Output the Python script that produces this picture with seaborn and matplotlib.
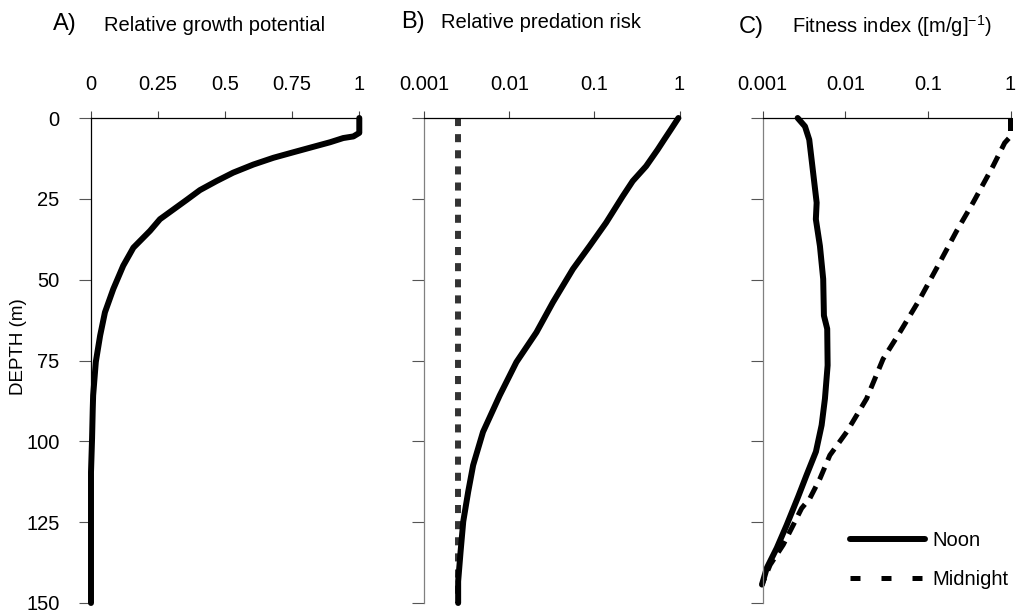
import numpy as np
import pandas as pd
import matplotlib
matplotlib.use("Agg")
import matplotlib.pyplot as plt
import seaborn as sns
from matplotlib.lines import Line2D
from matplotlib.ticker import NullLocator

# ---------------- data ----------------
depth_ticks = [0, 25, 50, 75, 100, 125, 150]

# Panel A: relative growth potential
depth_a = [0, 4.6, 5.7, 6.2, 7.5, 8.9, 10.6, 12.3, 14.4, 16.9, 19.5, 22.3, 25.3,
           28.3, 31.3, 34.9, 40.1, 45.7, 52.9, 60.1, 67.3, 75.4, 85.8, 90.0,
           99.0, 109.5, 150]
growth = [1.0, 1.0, 0.978, 0.940, 0.891, 0.829, 0.754, 0.680, 0.605, 0.530,
          0.468, 0.406, 0.357, 0.307, 0.257, 0.220, 0.158, 0.120, 0.083, 0.052,
          0.034, 0.018, 0.008, 0.0065, 0.004, 0.0, 0.0]

# Panel B: relative predation risk
depth_b = [0, 3.6, 6.7, 9.8, 14.9, 19.5, 24.2, 32.4, 39.6, 46.7, 57.0, 66.3,
           75.5, 85.8, 97.1, 107.4, 115.6, 124.8, 134.1, 143.3, 150]
risk_noon = [0.97, 0.79, 0.66, 0.553, 0.405, 0.282, 0.215, 0.137, 0.0877,
             0.0559, 0.0325, 0.0208, 0.0121, 0.0077, 0.0049, 0.00375, 0.00328,
             0.00287, 0.00267, 0.0025, 0.0025]
depth_b_mid = [0, 150]
risk_midnight = [0.00246, 0.00246]

# Panel C: fitness index
depth_c_noon = [0, 2.6, 6.7, 12.9, 19.0, 26.2, 31.3, 39.6, 49.8, 61.1, 65.2,
                76.5, 86.8, 95.0, 103.2, 110.4, 117.1, 125.9, 133.0, 139.2, 144.3]
fit_noon = [0.00265, 0.00325, 0.00366, 0.00391, 0.00417, 0.0045, 0.0044,
            0.00493, 0.0054, 0.00551, 0.00604, 0.00611, 0.00567, 0.00517,
            0.00441, 0.0034, 0.00269, 0.00195, 0.00148, 0.00112, 0.00098]
depth_c_mid = [0, 5.7, 7.7, 14.9, 26.2, 35.0, 44.7, 56.0, 66.3, 74.5, 86.8,
               97.1, 104.3, 111.5, 117.6, 120.7, 125.9, 132.0, 138.2, 144.3]
fit_midnight = [1.0, 1.0, 0.85, 0.614, 0.352, 0.222, 0.139, 0.0798, 0.0457,
                0.0287, 0.0181, 0.0104, 0.0065, 0.00494, 0.00373, 0.00296,
                0.00234, 0.00177, 0.00123, 0.00098]

lin_ticks = [0, 0.25, 0.5, 0.75, 1]
lin_labels = ["0", "0.25", "0.5", "0.75", "1"]
log_ticks = [0.001, 0.01, 0.1, 1]
log_labels = ["0.001", "0.01", "0.1", "1"]

# ---------------- style ----------------
sns.set_style("white")
plt.rcParams['font.family'] = ['Liberation Sans', 'DejaVu Sans']
plt.rcParams['mathtext.fontset'] = 'custom'
plt.rcParams['mathtext.rm'] = 'Liberation Sans'
plt.rcParams['mathtext.it'] = 'Liberation Sans:italic'
plt.rcParams['text.color'] = 'black'
plt.rcParams['xtick.color'] = 'black'
plt.rcParams['ytick.color'] = 'black'

FS = 14.5
W, H = 1022, 614
fig = plt.figure(figsize=(W / 100, H / 100), dpi=100)

top_px, bot_px = 118.0, 603.0
def axes_px(x0, x1):
    return fig.add_axes([x0 / W, 1 - bot_px / H, (x1 - x0) / W, (bot_px - top_px) / H])

ax_a = axes_px(91.0, 359.3)
ax_b = axes_px(424.3, 679.5)
ax_c = axes_px(762.7, 1010.5)

def style(ax, left_color, show_ylabels):
    ax.set_ylim(150, 0)
    ax.xaxis.tick_top()
    for s in ['right', 'bottom']:
        ax.spines[s].set_visible(False)
    ax.spines['top'].set_color('black')
    ax.spines['top'].set_linewidth(0.9)
    ax.spines['left'].set_color(left_color)
    ax.spines['left'].set_linewidth(0.9)
    ax.tick_params(axis='x', which='major', top=True, bottom=False, direction='out',
                   length=5, width=0.8, color='#444444', pad=12, labelsize=FS,
                   labeltop=True, labelbottom=False)
    ax.tick_params(axis='y', which='major', left=True, direction='out', length=9,
                   width=0.8, color='#555555', pad=13.5, labelsize=FS,
                   labelleft=show_ylabels)
    ax.set_yticks(depth_ticks)
    if show_ylabels:
        ax.set_yticklabels([str(t) for t in depth_ticks])
    ax.set_xlabel('')
    ax.set_ylabel('')
    ax.grid(False)
    ax.patch.set_alpha(0)

# Panel A
sns.lineplot(x=growth, y=depth_a, sort=False, estimator=None, ax=ax_a,
             color='black', linewidth=4.3, clip_on=False)
ax_a.set_xlim(0, 1)
ax_a.set_xticks(lin_ticks)
ax_a.set_xticklabels(lin_labels)
style(ax_a, 'black', True)

# Panel B
sns.lineplot(x=risk_midnight, y=depth_b_mid, sort=False, estimator=None, ax=ax_b,
             color='#333333', linewidth=4.3, linestyle=(0, (1.35, 1.35)), clip_on=False)
sns.lineplot(x=risk_noon, y=depth_b, sort=False, estimator=None, ax=ax_b,
             color='black', linewidth=4.3, clip_on=False)
ax_b.set_xscale('log')
ax_b.set_xlim(0.001, 1)
ax_b.set_xticks(log_ticks)
ax_b.set_xticklabels(log_labels)
ax_b.xaxis.set_minor_locator(NullLocator())
style(ax_b, '#808080', False)

# Panel C
sns.lineplot(x=fit_midnight, y=depth_c_mid, sort=False, estimator=None, ax=ax_c,
             color='black', linewidth=3.6, linestyle=(0, (2.6, 1.6)), clip_on=False)
sns.lineplot(x=fit_noon, y=depth_c_noon, sort=False, estimator=None, ax=ax_c,
             color='black', linewidth=4.3, clip_on=False)
ax_c.set_xscale('log')
ax_c.set_xlim(0.001, 1)
ax_c.set_xticks(log_ticks)
ax_c.set_xticklabels(log_labels)
ax_c.xaxis.set_minor_locator(NullLocator())
style(ax_c, '#808080', False)

handles = [Line2D([], [], color='black', lw=4.3),
           Line2D([], [], color='black', lw=3.6, linestyle=(0, (2.0, 4.2)))]
ax_c.legend(handles, ['Noon', 'Midnight'], loc='upper left',
            bbox_to_anchor=(0.353, 0.148), frameon=False, handlelength=3.7,
            handletextpad=0.4, labelspacing=1.0, borderpad=0, borderaxespad=0,
            fontsize=FS)

# Titles
def ftext(xp, yp, s, size, **kw):
    fig.text(xp / W, 1 - yp / H, s, fontsize=size, ha='left', va='baseline', **kw)

ftext(53, 30, "A)", 17)
ftext(104, 30.7, "Relative growth potential", FS)
ftext(401, 28.3, "B)", 17)
ftext(441, 28.3, "Relative predation risk", FS)
ftext(739, 33, "C)", 17)
ftext(791.5, 32.7, "Fitness index ([m/g]$^{\\mathrm{-1}}$)", FS)

fig.text(19 / W, 1 - 346.7 / H, "DEPTH (m)", fontsize=13.5, rotation=90,
         ha='center', va='center')

fig.savefig("out.png", dpi=100)
